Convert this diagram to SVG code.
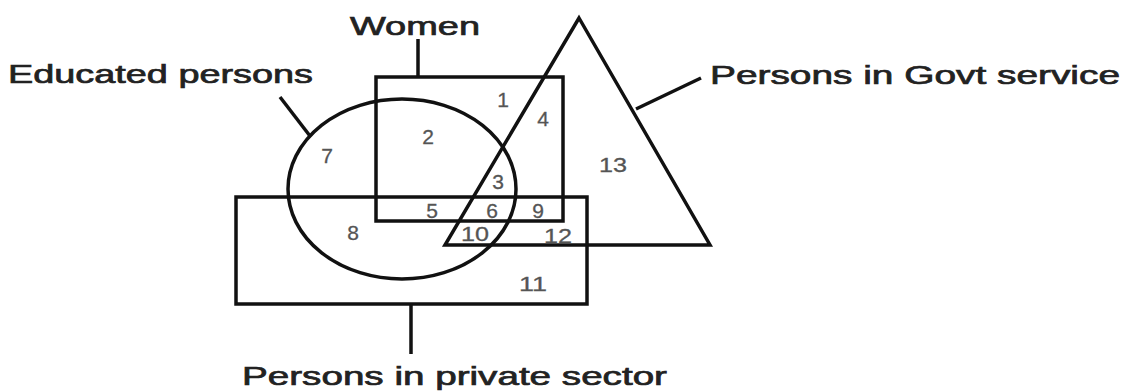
<svg xmlns="http://www.w3.org/2000/svg" width="1126" height="392" viewBox="0 0 1126 392">
<style>
.shape{fill:none;stroke:#111;stroke-width:3.5;stroke-linejoin:miter}
.lead{fill:none;stroke:#111;stroke-width:3.5}
.lbl{font-family:"Liberation Sans",Arial,sans-serif;font-size:26px;fill:#222;stroke:#222;stroke-width:0.7}
.num{font-family:"Liberation Sans",Arial,sans-serif;font-size:21px;fill:#555;stroke:#555;stroke-width:0.3;text-anchor:middle}
</style>
<rect width="1126" height="392" fill="#fff"/>
<g id="women">
<rect class="shape" x="376" y="77" width="187" height="144"/>
<text class="lbl" x="350" y="35" textLength="130" lengthAdjust="spacingAndGlyphs">Women</text>
</g>
<g id="educated">
<ellipse class="shape" cx="402" cy="189" rx="114" ry="90"/>
<text class="lbl" x="8" y="83" textLength="305" lengthAdjust="spacingAndGlyphs">Educated persons</text>
</g>
<g id="govt">
<polygon class="shape" points="579,18 710,245 445,245"/>
<text class="lbl" x="710" y="84" textLength="410" lengthAdjust="spacingAndGlyphs">Persons in Govt service</text>
</g>
<g id="private">
<rect class="shape" x="236" y="197" width="351" height="107"/>
<text class="lbl" x="242" y="385" textLength="425" lengthAdjust="spacingAndGlyphs">Persons in private sector</text>
</g>
<g id="connectors">
<line class="lead" x1="418" y1="39" x2="418" y2="77"/>
<line class="lead" x1="280" y1="97" x2="310" y2="136"/>
<line class="lead" x1="636" y1="109" x2="701" y2="78"/>
<line class="lead" x1="411" y1="304" x2="411" y2="354"/>
</g>
<g id="regions">
<text class="num" x="503" y="107">1</text>
<text class="num" x="543" y="126">4</text>
<text class="num" x="428" y="144">2</text>
<text class="num" x="327" y="163">7</text>
<text class="num" x="613" y="172" textLength="28" lengthAdjust="spacingAndGlyphs">13</text>
<text class="num" x="498" y="189">3</text>
<text class="num" x="432" y="218">5</text>
<text class="num" x="492" y="218">6</text>
<text class="num" x="538" y="218">9</text>
<text class="num" x="353" y="240">8</text>
<text class="num" x="475" y="241" textLength="28" lengthAdjust="spacingAndGlyphs">10</text>
<text class="num" x="558" y="243" textLength="28" lengthAdjust="spacingAndGlyphs">12</text>
<text class="num" x="533" y="291" textLength="28" lengthAdjust="spacingAndGlyphs">11</text>
</g>
</svg>
